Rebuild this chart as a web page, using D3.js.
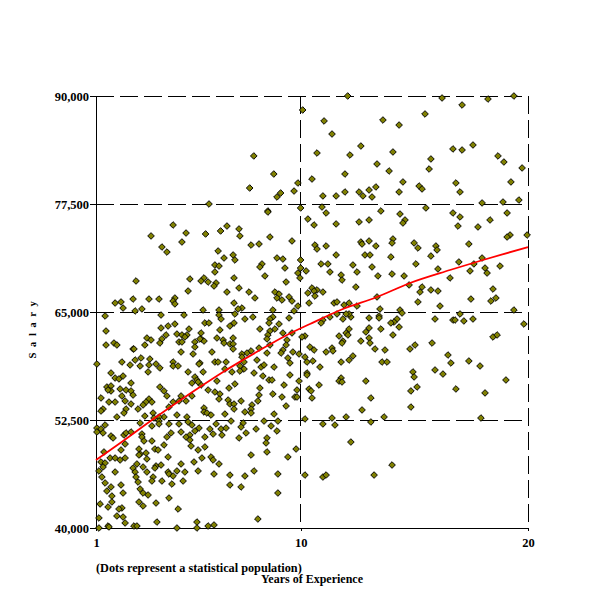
<!DOCTYPE html>
<html>
<head>
<meta charset="utf-8">
<script src="https://cdn.jsdelivr.net/npm/d3@7"></script>
<style>
  body { margin: 0; background: #fff; }
  text { font-family: "Liberation Serif", serif; font-weight: bold; fill: #000; }
</style>
</head>
<body>
<div id="chart"></div>
<script>
const xTicks = [1, 10, 20]
const yTicks = [40000, 52500, 65000, 77500, 90000]
const xLabel = 'Years of Experience'
const yLabel = 'Salary'
const note = '(Dots represent a statistical population)'

// years, salary
const dots = [
  [10.09,88380],[7.94,83060],[8.82,80970],[7.76,79350],[9.88,79930],[9.71,79000],[9.12,78770],[8.96,78310],[5.97,77500],[10,77040],
  [8.56,76690],[8.56,76570],[10.32,75760],[4.39,75070],[6.76,74950],[7.29,74610],[6.48,74380],[4.96,74140],[5.82,74030],[3.42,73800],
  [7.33,73800],[8.65,73680],[4.78,73100],[9.62,73220],[3.9,72520],[7.82,72750],[8.17,72870],[4.12,71940],[6.37,72060],[7.03,71600],
  [6.63,71250],[7.11,71020],[8.96,71250],[9.22,71130],[10,71020],[6.23,70440],[6.41,70320],[8.3,70560],[8.21,70210],[9.31,70090],
  [10,70090],[6.23,69630],[10.24,69750],[9.88,69510],[8.43,69170],[9.97,68940],[7.07,68940],[5.13,68820],[5.75,68940],[5.62,68590],
  [5.93,68470],[6.28,68360],[6.19,68010],[2.76,68590],[9.36,68470],[7.29,67780],[5.05,67430],[6.76,67310],[7.73,67310],[8.87,67310],
  [9.05,67080],[10.32,67200],[7.99,66620],[8.96,66620],[9.18,66390],[9.49,66740],[9.62,66270],[10.37,66040],[2.63,66500],[3.33,66500],
  [3.77,66500],[4.47,66620],[4.39,66270],[4.47,65930],[1.84,66040],[2.1,66160],[2.19,65460],[3.02,65350],[7.07,66040],[9.88,65690],
  [7.42,65460],[7.25,65350],[9.71,65120],[6.41,65230],[8.78,65230],[2.72,65120],[5.71,65230],
  [12.07,90000],[16.22,89770],[18.24,89650],[19.38,90000],[17.1,88960],[15.47,87920],[11.03,87110],[13.62,87220],[14.33,86640],[11.38,85600],
  [12.65,84210],[16.7,83870],[17.1,83750],[17.58,84330],[10.72,83400],[12.17,83170],[14.06,83520],[18.68,83060],[15.73,82710],[18.94,82360],
  [13.36,82130],[19.74,81670],[15.65,81550],[13.89,81320],[11.95,80970],[10.5,80390],[14.5,80050],[16.83,79930],[19.25,80050],[15.21,79580],
  [15.34,79240],[13.31,79470],[13.01,79120],[11.95,78890],[12.57,78890],[14.33,78890],[17.01,78890],[10.98,78430],[11.56,78430],[12.74,78430],
  [13.14,78310],[19.6,77960],[17.98,77620],[18.9,77730],[10.94,77150],[15.51,77040],[13.53,76690],[11.12,76460],[14.37,76340],[16.7,76460],
  [19.08,76460],[17.01,76000],[13.01,75650],[12.57,75420],[14.59,75650],[14.5,75300],[18.33,75650],[10.59,75070],[11.56,75190],[16.92,74950],
  [17.8,74840],[19.96,73910],[19.21,73910],[19.08,73680],[14.06,73450],[12.65,73100],[13.01,73220],[12.7,72870],[14.02,72990],[14.99,72990],
  [17.4,72870],[10.63,72750],[11.12,72640],[13.31,72640],[15.16,72410],[15.95,72640],[10.72,72290],[16,72180],[11.56,71600],[12.83,71600],
  [13.05,71600],[13.97,71370],[15.73,71480],[17.98,71250],[16.96,70790],[10.9,70560],[11.2,70560],[12.3,70440],[15.07,70560],[17.62,70560],
  [18.77,70320],[13.14,70210],[18.11,70090],[16.04,69980],[17.45,69750],[11.29,69630],[12.48,69630],[18.2,69510],[11.78,69280],[13.4,69170],
  [14.02,69400],[14.55,69170],[16.57,68940],[11.82,68700],[14.77,68130],[12.43,67890],[15.34,67890],[10.5,67780],[10.72,67550],[10.59,67430],
  [15.73,67550],[16.04,67430],[18.46,67660],[10.98,67310],[10.63,66850],[15.25,67310],[13.36,66740],[17.49,66500],[18.59,66620],[18.37,66270],
  [11.47,66040],[11.6,66160],[12.13,66040],[11.91,65810],[12.48,65690],[15.16,66160],[16.13,65690],[13.49,65350],[14.37,65230],[19.38,65230],
  [17.01,64770],[15.91,64190],[16.7,64070],[16.79,64070],[17.18,63960],[17.58,64190],[19.82,63610],[13.45,64540],[13.45,64310],[14.46,64880],
  [14.24,64190],[14.11,63840],[13.97,63730],[13.01,64310],[14.33,63260],[13.53,63030],[13.01,63150],[12.87,62690],[14.06,62340],[12.21,64420],
  [12.13,64770],[12,64770],[11.86,64190],[11.6,64770],[11.29,64420],[10.98,64070],[10.9,63730],[12.13,63030],[12,62570],[12.08,62340],
  [11.69,62220],[11.86,61640],[11.82,61410],[12.65,61640],[13.01,61990],[13.05,61410],[18.46,62110],[18.64,62340],[15.78,61410],[15.03,61180],
  [14.81,60720],[13.71,60600],[13.27,60720],[11.38,60830],[11.42,60490],[11.12,60370],[10.41,60950],[10.59,60600],[10.19,62220],[10.06,62110],
  [16.48,60020],[12.3,59910],[12.13,59440],[11.78,59210],[13.58,59210],[13.8,59210],[10.19,59790],[10.28,59210],[10.54,59330],[10.85,58630],
  [16.61,59100],[17.4,59330],[17.89,58750],[15.91,58290],[16.26,57820],[14.94,58060],[14.99,57480],[10.28,57940],[10.28,57710],[11.78,57360],
  [11.69,57010],[11.82,56900],[12.87,57010],[19.03,57130],[10.81,56550],[10.37,56090],[10.46,55860],[15.12,56320],[14.85,55860],[16.83,56090],
  [18.11,55630],[10.5,55050],[13.09,55050],[12.7,53660],[14.85,54000],[10.19,52620],[11.38,52730],[12,52850],[13.67,52850],[17.93,52730],
  [10.98,52040],[11.51,51920],[13.09,52270],[12.21,49950],[14.02,47290],[10.19,46130],[10.98,45900],[11.12,46130],[13.23,46130],
  [6.41,64650],[6.5,64190],[7.55,64190],[7.11,64770],[7.9,64420],[5.79,63730],[5.97,63730],[7.07,63730],[6.89,63380],[6.45,62920],
  [8.21,63030],[9.05,63610],[8.78,64420],[8.65,64190],[8.61,63730],[9.49,64310],[8.87,63030],[8.65,62800],[9.22,62570],[9.62,62570],
  [8.56,62340],[5.62,62570],[7.03,61990],[6.32,61990],[5.62,61880],[5.75,61640],[8.52,61880],[6.59,61760],[6.63,61410],[6.89,61300],
  [7.03,61300],[9.4,61760],[7.03,60720],[9.36,61180],[8.17,60830],[8.65,61180],[6.1,60370],[7.82,60490],[7.64,60250],[7.42,60140],
  [7.42,59790],[8.52,60250],[9.22,60600],[9.14,60250],[9.66,60370],[9.93,60140],[5.57,59100],[9.44,59680],[9.53,59100],[8.08,59440],
  [6.23,59210],[6.37,59210],[6.72,59210],[7.51,59210],[8.26,58630],[8.39,58870],[8.83,58630],[6.67,58400],[7.33,58750],[7.51,58400],
  [7.33,58170],[5.71,58060],[6.98,58060],[7.95,57940],[9.53,57710],[8.34,57590],[8.61,57130],[8.74,57130],[6.32,57010],[9.93,57010],
  [7.11,56670],[9.27,56550],[8.21,56200],[6.85,56200],[5.93,55970],[6.23,55740],[6.45,55510],[9.84,55970],[8.78,55510],[5.62,56550],
  [8.17,55390],[9.18,55160],[9.75,55160],[9.84,55160],[6.41,54930],[6.81,54810],[7.38,54700],[8.12,54700],[6.89,54350],[7.07,54350],
  [7.86,54240],[9.36,54120],[5.75,53890],[7.82,53770],[7.07,53770],[7.55,53430],[7.82,53310],[5.75,53430],[5.88,53310],[6.67,53190],
  [6.06,53080],[8.83,53190],
  [6.94,52380],[8.39,52380],[9,52380],[6.28,52040],[7.47,52150],[7.38,51690],[8.7,51810],[6.01,51460],[6.5,51460],[6.72,51570],
  [8.04,51460],[8.96,51230],[6.15,50880],[7.6,51000],[6.54,50760],[5.79,50530],[7.29,50420],[8.52,50420],[8.48,49840],[5.79,49380],
  [9.8,49140],[8.52,48800],[7.82,48450],[9.44,48220],[5.66,48100],[6.06,48220],[6.15,47870],[6.41,47410],[6.19,46250],[6.89,46130],
  [7.55,46020],[7.95,46600],[9,46250],[6.89,44980],[7.38,44750],[9,44050],[8.12,41040],[5.93,40230],[6.19,40350],
  [1.4,64540],[3.86,64650],[4.87,64650],[3.86,63150],[4.17,63380],[4.47,63610],[5.09,63030],[1.44,62800],[4.56,62450],[4.78,62340],
  [5,62340],[4.91,62110],[4.08,62340],[3.9,61880],[3.24,61990],[3.42,61760],[3.81,61410],[1.44,61180],[1.79,61410],[1.92,61180],
  [3.15,61180],[4.65,61530],[4.78,61530],[5.35,61530],[5.35,60950],[5.57,61880],[2.63,60720],[2.67,60720],[4.74,60370],[5.27,60140],
  [2.98,59680],[2.72,59440],[3.37,59560],[2.14,59210],[2.5,58870],[2.94,58750],[3.33,58870],[3.64,58980],[3.81,58520],[4.39,59210],
  [4.39,58750],[4.61,58750],[1.04,58980],[5.53,58980],[3.29,58060],[5.05,58060],[1.66,57940],[1.84,57360],[2.01,57250],[2.19,57590],
  [5.35,57480],[5.22,56780],[5.44,57130],[5.49,56900],[2.54,56780],[3.81,56320],[1.48,56320],[1.66,56440],[1.66,55860],[1.53,55970],
  [2.06,56090],[2.32,55970],[2.54,55860],[2.63,55390],[3.99,55860],[2.14,55280],[1.22,55050],[4.12,55280],[4.74,55280],[5.22,55280],
  [1.57,54580],[1.84,54580],[2.28,54700],[4.39,54580],[4.65,54700],[4.96,54700],[3.33,54930],[3.2,54580],[3.46,54580],[3.07,54240],
  [2.54,54350],[2.85,53770],[2.32,53770],[1.31,53770],[1.22,53540],[3.99,52850],[3.77,52850],[3.51,53310],[4.21,54000],[4.56,53080],
  [5,52850],[2.23,53310],[1.92,52850],[3.15,52960],[3.55,52730],
  [1.4,51920],[1.04,51570],[1.22,51460],[1.04,51110],[1.31,51000],[2.94,52150],[3.77,52380],[3.77,52040],[3.46,51810],[4.21,52040],
  [4.65,52040],[5.05,52270],[5.22,51920],[5.53,51570],[4.74,51110],[4.3,51000],[4.12,50530],[5.13,50760],[4.96,50530],[5.35,51230],
  [1.66,50650],[1.75,50420],[2.23,50760],[2.32,51000],[2.54,51110],[3.02,50880],[3.02,50530],[2.28,49720],[3.11,50070],[3.46,50070],
  [5.13,50190],[5.18,49490],[3.99,49610],[2.89,49140],[3.59,49140],[3.73,49030],[5.49,49030],[1.35,48800],[2.1,49030],[2.94,48560],
  [2.89,48450],[3.2,48680],[4.17,48220],[1.62,48100],[1.84,48100],[2.06,47870],[2.28,48100],[3.24,47990],[1.22,47640],[1.4,47520],
  [1.31,47060],[1.13,46600],[2.8,47410],[2.63,46940],[3.07,47060],[2.72,46480],[1.84,46480],[3.24,46480],[3.64,47180],[3.86,47290],
  [3.59,46940],[4.74,47410],[5.31,47640],[4.17,46480],[4.21,46250],[4.91,46480],[4.56,46600],[5.49,46600],[4.39,46020],[3.51,45900],
  [3.46,45440],[3.9,45440],[4.83,45440],[1.26,45900],[1.4,45210],[2.85,45320],[2.76,45900],[4.34,45090],[2.1,44980],[1.66,44750],
  [2.94,44510],[1.48,44280],[2.19,44050],[3.07,44050],[3.29,43820],[1.7,43700],[4.21,43470],[1.18,42780],[1.7,43010],[2.89,43010],
  [3.64,42890],[3.07,42550],[1.53,42430],[2.14,42320],[2.01,42200],[4.61,42200],[1.92,41390],[2.19,41270],[1.13,41160],[2.28,40580],
  [3.68,40690],[5.44,40690],[1.13,40000],[1.53,40230],[1.57,40120],[2.67,40230],[2.8,40230],[4.56,40000],[5.44,40000]
]

// fitted red line
const fitYears = [1, 2.19, 3.46, 5.57, 6.59, 7.46, 8.52, 9.4, 10.41, 11.86, 13.36, 14.81, 16.57, 18.02, 20]
const fitSalary = [47870, 50070, 52500, 56320, 58060, 59440, 61060, 62340, 63610, 65350, 66740, 68360, 69860, 71020, 72520]

const width = 600
const height = 600

const svg = d3.select('#chart')
  .append('svg')
  .attr('width', width)
  .attr('height', height)
  .style('display', 'block')

const xScale = d3.scaleLinear().domain([1, 20]).range([96, 528])
const yScale = d3.scaleLinear().domain([40000, 90000]).range([528, 96])

// dashed grid, top and right edges included
const grid = svg.append('g')
  .attr('stroke', '#000')
  .attr('stroke-dasharray', '18,6')
  .attr('shape-rendering', 'crispEdges')
grid.selectAll('.h')
  .data(yTicks.slice(1))
  .enter()
  .append('line')
  .attr('x1', xScale(1))
  .attr('x2', xScale(20))
  .attr('y1', d => yScale(d))
  .attr('y2', d => yScale(d))
grid.selectAll('.v')
  .data(xTicks.slice(1))
  .enter()
  .append('line')
  .attr('x1', d => xScale(d))
  .attr('x2', d => xScale(d))
  .attr('y1', yScale(90000))
  .attr('y2', yScale(40000))

const xAxis = d3.axisBottom(xScale).tickValues(xTicks).tickSize(3).tickSizeOuter(0).tickPadding(7)
const yAxis = d3.axisLeft(yScale).tickValues(yTicks).tickSize(6).tickSizeOuter(0).tickPadding(1).tickFormat(d3.format(','))

const xAxisG = svg.append('g')
  .attr('transform', `translate(0,${yScale(40000)})`)
  .call(xAxis)
const yAxisG = svg.append('g')
  .attr('transform', `translate(${xScale(1)},0)`)
  .call(yAxis)
svg.selectAll('.domain, .tick line')
  .attr('stroke', '#000')
  .attr('shape-rendering', 'crispEdges')
svg.selectAll('.tick text')
  .style('font-size', '12.5px')

// dots
const diamond = d3.symbol().type(d3.symbolSquare).size(22)
svg.append('g')
  .selectAll('path')
  .data(dots)
  .enter()
  .append('path')
  .attr('d', diamond)
  .attr('transform', d => `translate(${xScale(d[0])},${yScale(d[1])}) rotate(45)`)
  .attr('fill', '#808000')
  .attr('stroke', '#000')
  .attr('stroke-width', 0.9)

const fitLine = d3.line()
  .x(d => xScale(d))
  .y((d, i) => yScale(fitSalary[i]))
  .curve(d3.curveMonotoneX)

svg.append('path')
  .datum(fitYears)
  .attr('d', fitLine)
  .attr('fill', 'none')
  .attr('stroke', '#f00')
  .attr('stroke-width', 1.8)

svg.append('text')
  .text(note)
  .attr('x', 96)
  .attr('y', 572)
  .style('font-size', '12.25px')

svg.append('text')
  .text(xLabel)
  .attr('x', 261)
  .attr('y', 583)
  .style('font-size', '12px')

svg.append('text')
  .text(yLabel)
  .attr('transform', 'translate(36,327) rotate(-90)')
  .attr('text-anchor', 'middle')
  .style('font-size', '10.5px')
  .style('letter-spacing', '5.6px')
</script>
</body>
</html>
